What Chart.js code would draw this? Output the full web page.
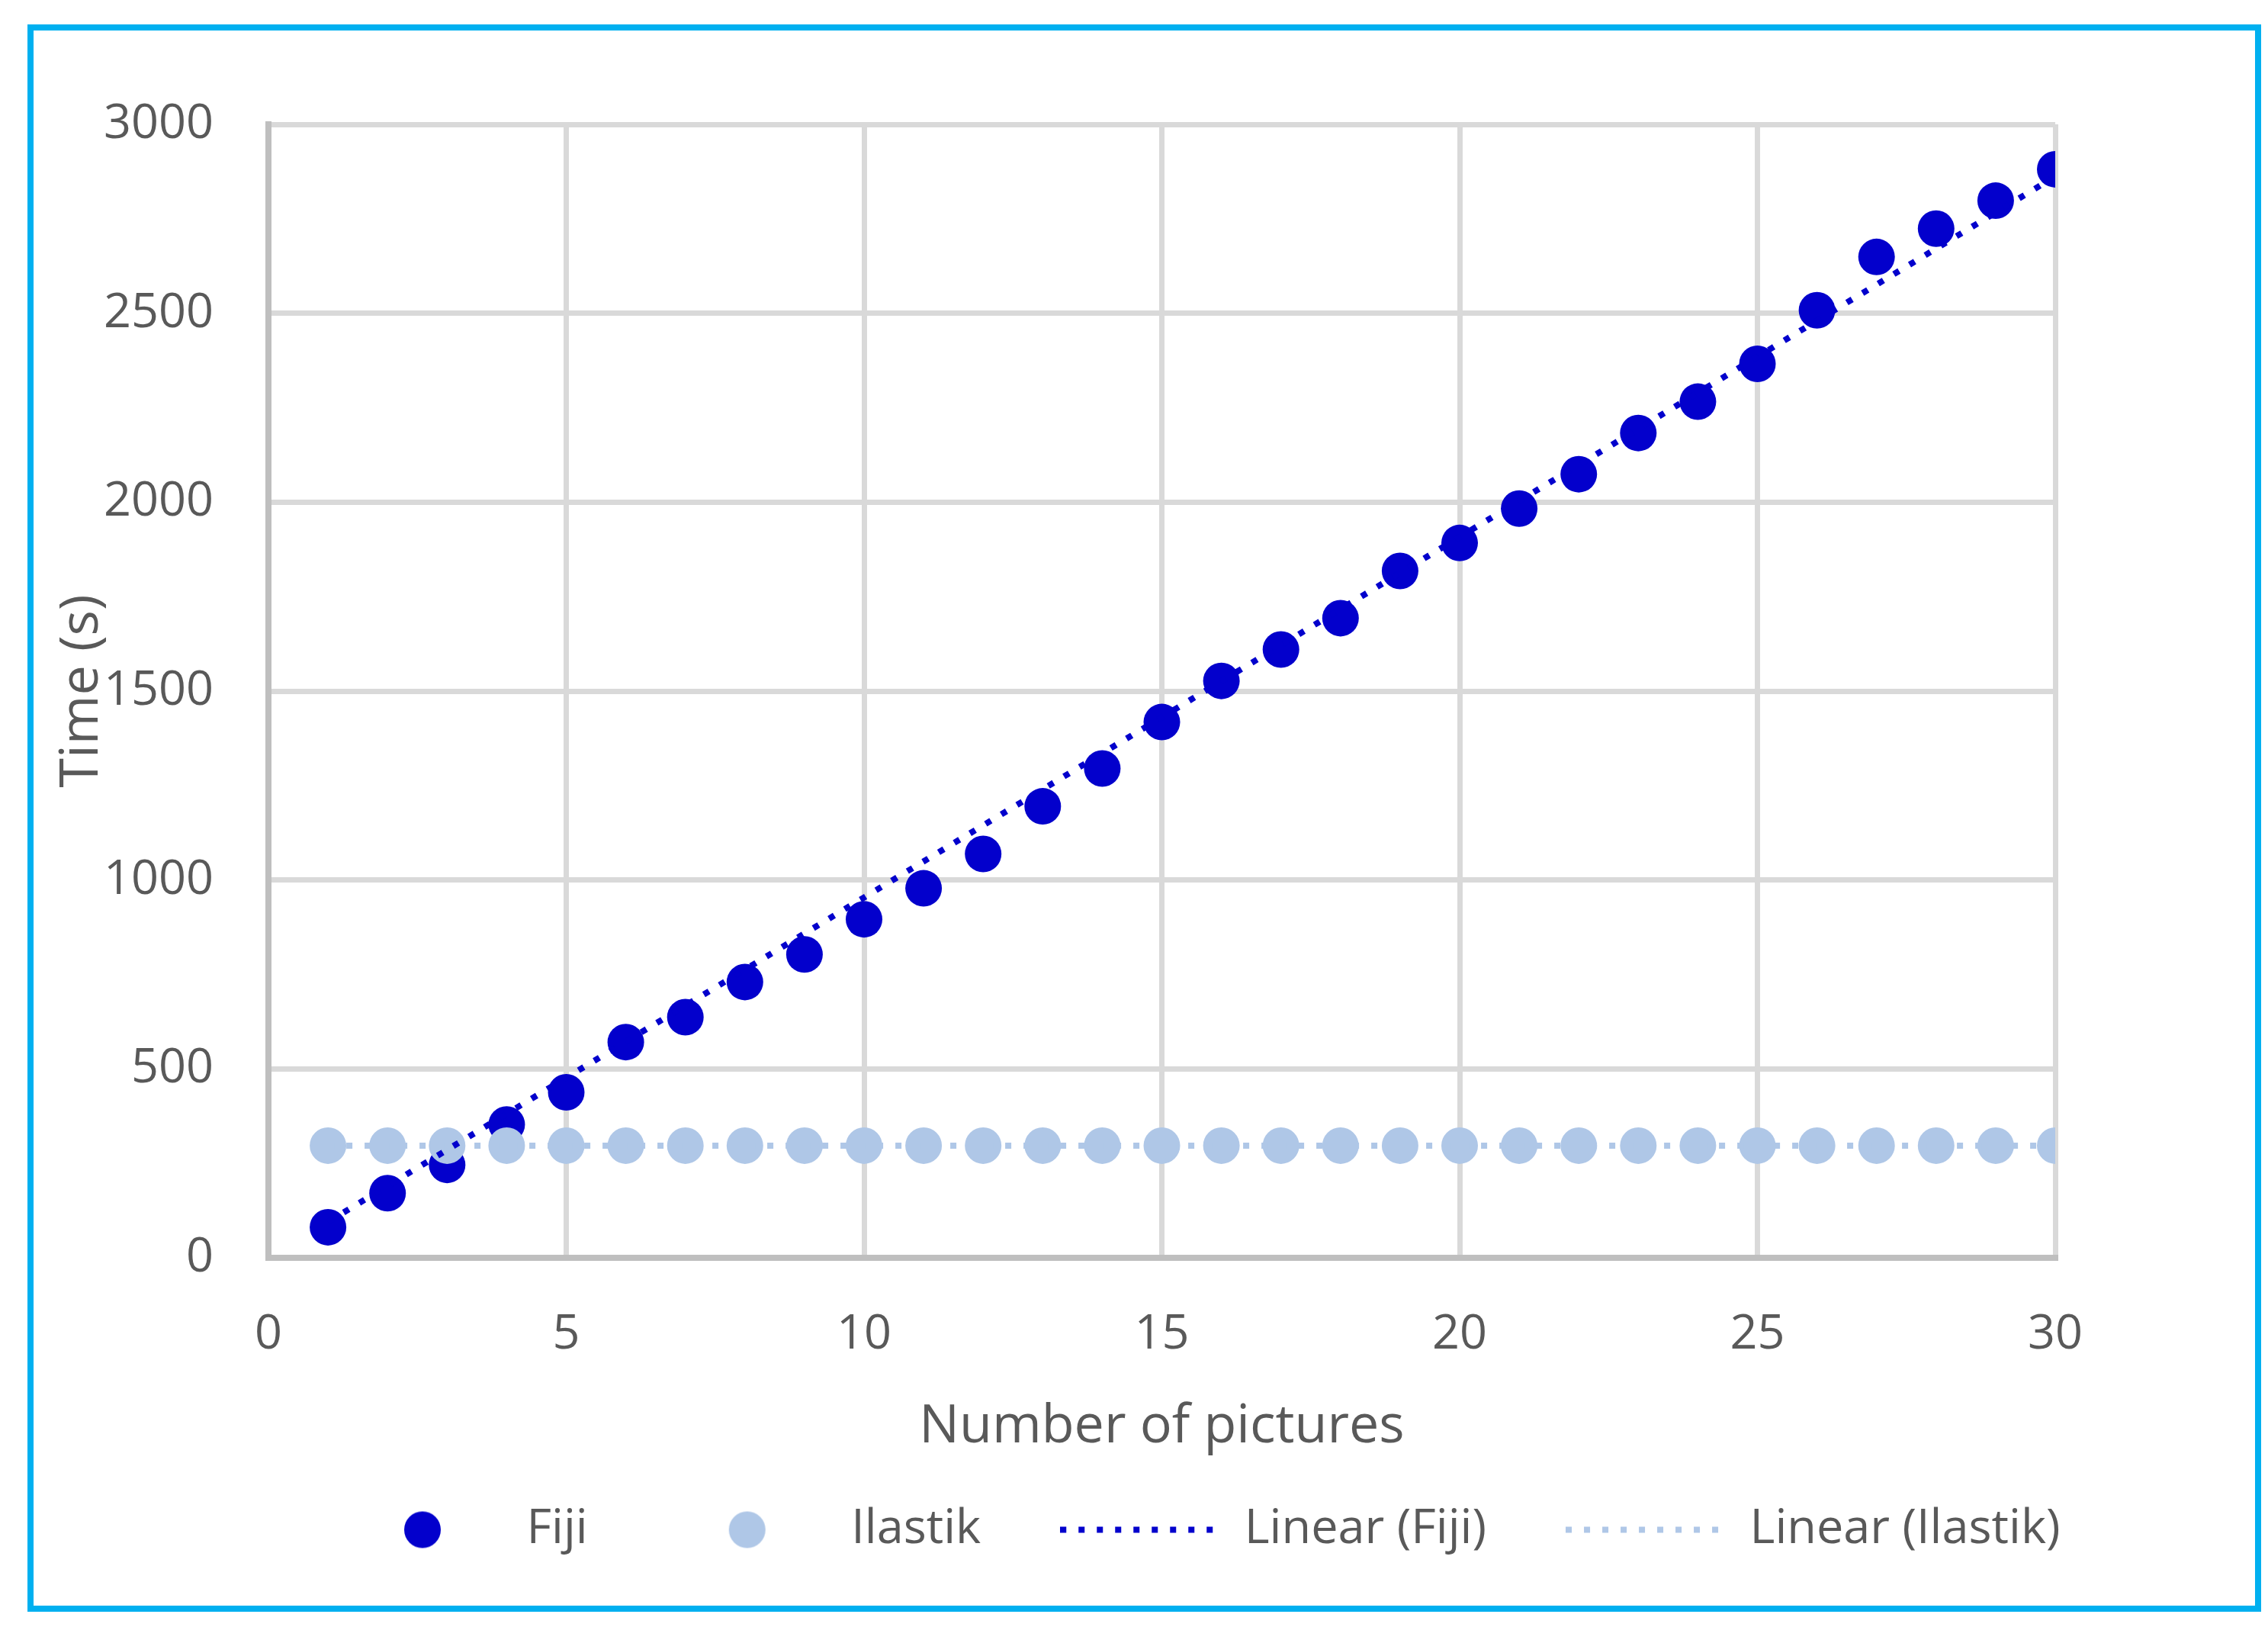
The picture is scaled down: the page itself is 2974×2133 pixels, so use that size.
<!DOCTYPE html>
<html>
<head>
<meta charset="utf-8">
<title>Time vs number of pictures</title>
<script src="https://cdn.jsdelivr.net/npm/chart.js"></script>
<style>
  html, body { margin: 0; padding: 0; background: #fff; }
  .frame {
    position: absolute; left: 36px; top: 32px;
    width: 2913px; height: 2065px;
    border: 8px solid #00B0F0;
  }
  #chart { position: absolute; left: 0; top: 0; }
</style>
</head>
<body>
<div class="frame"></div>
<canvas id="chart" width="2974" height="2133"></canvas>
<script>
  // Data
  const pictures = [1, 2, 3, 4, 5, 6, 7, 8, 9, 10, 11, 12, 13, 14, 15,
                    16, 17, 18, 19, 20, 21, 22, 23, 24, 25, 26, 27, 28, 29, 30];
  const fijiTimes = [81, 171, 246, 353, 438, 571, 637, 730, 803, 896,
                     978, 1069, 1195, 1295, 1418, 1527, 1610, 1693, 1818, 1892,
                     1983, 2074, 2183, 2266, 2366, 2508, 2649, 2724, 2798, 2881];
  const ilastikTimes = [297, 297, 297, 297, 297, 297, 297, 297, 297, 297,
                        297, 297, 297, 297, 297, 297, 297, 297, 297, 297,
                        297, 297, 297, 297, 297, 297, 297, 297, 297, 297];
  // trendlines, read at their two ends
  const trendX = [1, 30];
  const fijiTrend = [95, 2862];
  const ilastikTrend = [297, 297];

  const seriesNames = ['Fiji', 'Ilastik', 'Linear (Fiji)', 'Linear (Ilastik)'];
  const xTicks = [0, 5, 10, 15, 20, 25, 30];
  const yTicks = [0, 500, 1000, 1500, 2000, 2500, 3000];

  const FIJI = '#0300CC';
  const ILASTIK = '#AFC7E7';
  const TEXT = '#595959';

  Chart.defaults.font.family = "'Open Sans', sans-serif";

  function toPoints(xs, ys) {
    return xs.map((x, i) => ({ x: x, y: ys[i] }));
  }

  // legend symbols, same look as the marks in the plot
  function makeIcon(kind, color) {
    const c = document.createElement('canvas');
    c.width = 210;
    c.height = 50;
    const g = c.getContext('2d');
    if (kind === 'dot') {
      g.fillStyle = color;
      g.beginPath();
      g.arc(105, 25, 24, 0, Math.PI * 2);
      g.fill();
    } else {
      g.strokeStyle = color;
      g.lineWidth = 8;
      g.setLineDash([8, 16]);
      g.beginPath();
      g.moveTo(0, 25);
      g.lineTo(210, 25);
      g.stroke();
    }
    return c;
  }
  const icons = [makeIcon('dot', FIJI), makeIcon('dot', ILASTIK),
                 makeIcon('line', FIJI), makeIcon('line', ILASTIK)];

  // the legend row starts further right than the y axis, like in the original
  const legendShift = {
    id: 'legendShift',
    afterLayout(chart) {
      chart.legend.left = 345;
    }
  };

  const ctx = document.getElementById('chart').getContext('2d');

  new Chart(ctx, {
    type: 'scatter',
    data: {
      datasets: [
        {
          label: seriesNames[0],
          data: toPoints(pictures, fijiTimes),
          backgroundColor: FIJI,
          pointRadius: 24,
          pointBorderWidth: 0,
          order: 3
        },
        {
          label: seriesNames[1],
          data: toPoints(pictures, ilastikTimes),
          backgroundColor: ILASTIK,
          pointRadius: 24,
          pointBorderWidth: 0,
          order: 2
        },
        {
          label: seriesNames[2],
          data: toPoints(trendX, fijiTrend),
          showLine: true,
          borderColor: FIJI,
          borderWidth: 8,
          borderDash: [8, 16],
          borderCapStyle: 'butt',
          pointRadius: 0,
          order: 0
        },
        {
          label: seriesNames[3],
          data: toPoints(trendX, ilastikTrend),
          showLine: true,
          borderColor: ILASTIK,
          borderWidth: 8,
          borderDash: [8, 16],
          borderCapStyle: 'butt',
          pointRadius: 0,
          order: 1
        }
      ]
    },
    plugins: [legendShift],
    options: {
      responsive: false,
      animation: false,
      events: [],
      layout: {
        padding: { left: 40, right: 100, top: 163, bottom: 86 }
      },
      plugins: {
        tooltip: { enabled: false },
        legend: {
          position: 'bottom',
          align: 'start',
          labels: {
            usePointStyle: true,
            pointStyleWidth: 210,
            padding: 104,
            color: TEXT,
            font: { size: 63 },
            generateLabels: function(chart) {
              const items = Chart.defaults.plugins.legend.labels.generateLabels(chart);
              items.sort((a, b) => a.datasetIndex - b.datasetIndex);
              items.forEach(item => { item.pointStyle = icons[item.datasetIndex]; });
              return items;
            }
          }
        }
      },
      scales: {
        x: {
          type: 'linear',
          min: 0,
          max: 30,
          afterBuildTicks: function(scale) {
            scale.ticks = xTicks.map(v => ({ value: v }));
          },
          afterFit: function(scale) { scale.height = 221; },
          grid: { color: '#D9D9D9', lineWidth: 7, drawTicks: false },
          border: { color: '#BFBFBF', width: 8 },
          ticks: {
            padding: 63,
            color: TEXT,
            font: { size: 63 },
            callback: v => String(v)
          },
          title: {
            display: true,
            text: 'Number of pictures',
            color: TEXT,
            font: { size: 70 },
            padding: { top: 0, bottom: -43 }
          }
        },
        y: {
          min: 0,
          max: 3000,
          afterBuildTicks: function(scale) {
            scale.ticks = yTicks.map(v => ({ value: v }));
          },
          afterFit: function(scale) { scale.width = 312; },
          grid: { color: '#D9D9D9', lineWidth: 7, drawTicks: false },
          border: { color: '#BFBFBF', width: 8 },
          ticks: {
            padding: 72,
            color: TEXT,
            font: { size: 63 },
            callback: v => String(v)
          },
          title: {
            display: true,
            text: 'Time (s)',
            color: TEXT,
            font: { size: 70 },
            padding: { top: 26, bottom: 0 }
          }
        },
        // empty spacer on the right so the legend row can run past the plot
        y2: {
          position: 'right',
          grid: { display: false },
          border: { display: false },
          ticks: { display: false },
          afterFit: function(scale) { scale.width = 179; }
        }
      }
    }
  });
</script>
</body>
</html>
